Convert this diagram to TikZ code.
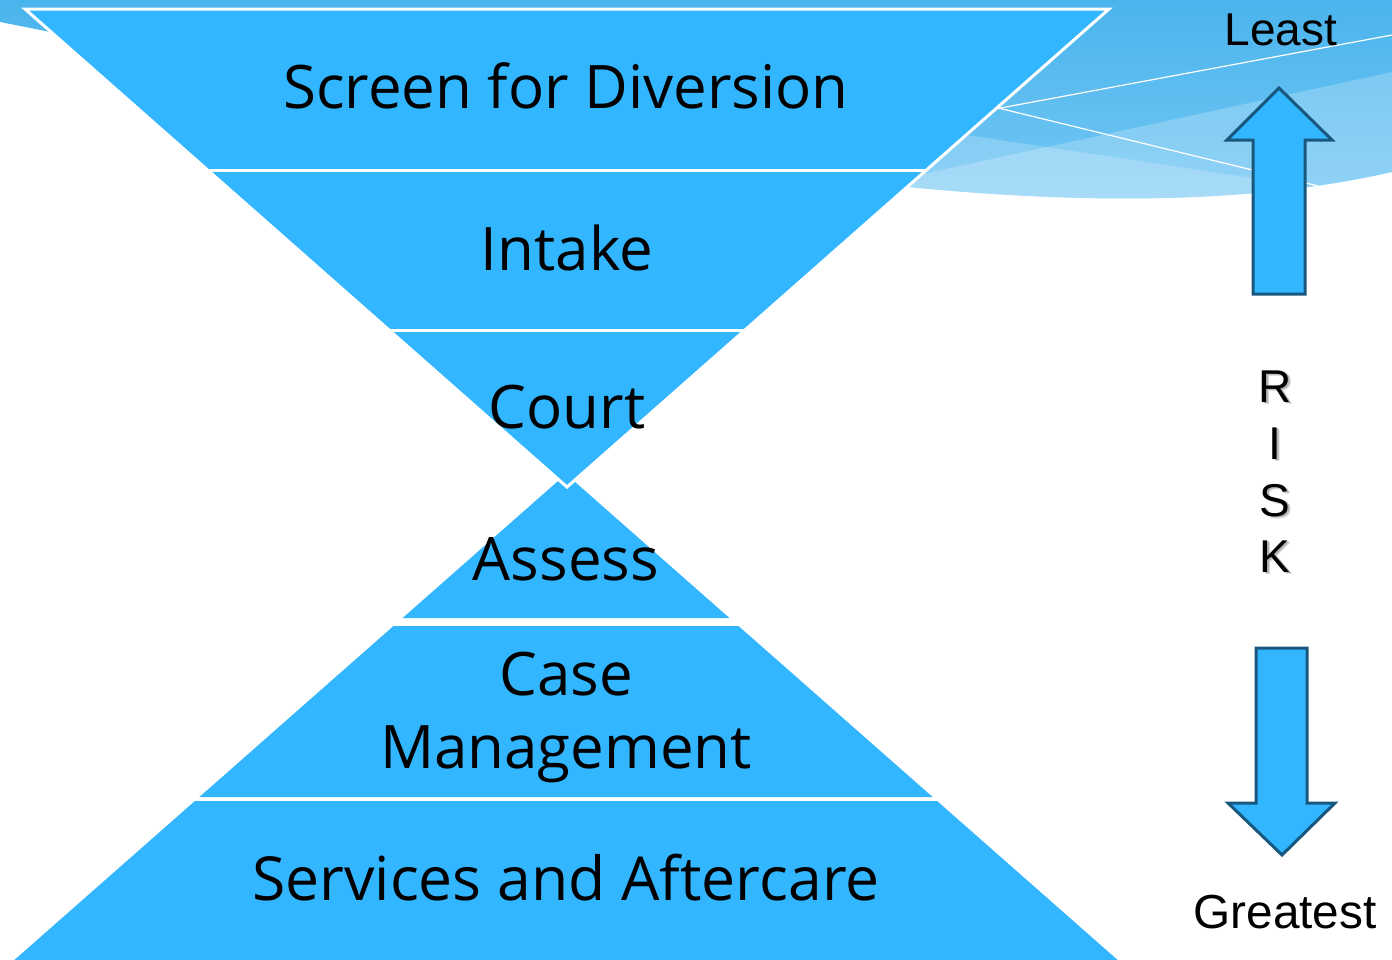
\documentclass[tikz,border=0pt]{standalone}
\usepackage{fontspec}
\setmainfont{Open Sans}
\newfontfamily\arialfont{Liberation Sans}
\definecolor{funnel}{RGB}{50,182,255}
\definecolor{arrowedge}{RGB}{25,88,126}
\definecolor{swtop}{RGB}{74,180,236}
\definecolor{swbot}{RGB}{118,200,245}
\newcommand{\shtext}[1]{\makebox[0pt][l]{\raisebox{-2.2pt}{\hspace{2.2pt}\textcolor{black!15}{#1}}}\makebox[0pt][l]{\raisebox{-1.3pt}{\hspace{1.3pt}\textcolor{black!30}{#1}}}#1}
\tikzset{
  band/.style={fill=funnel},
  sep/.style={draw=white, line width=2.25pt},
  stagetext/.style={inner sep=0pt, anchor=base, font=\fontsize{45}{54}\selectfont},
  risktext/.style={inner sep=0pt, anchor=base, font=\arialfont\fontsize{34.5}{40}\selectfont},
  riskarrow/.style={fill=funnel, draw=arrowedge, line width=2.25pt, line join=miter},
  wline/.style={draw=white, line width=0.9pt}
}
\begin{document}
\begin{tikzpicture}[x=0.75pt,y=-0.75pt]
\useasboundingbox (0,0) rectangle (1392,960);
% background swoosh
\begin{scope}
  \clip (0,0) -- (0,22) .. controls (400,100) and (1000,262) .. (1392,172) -- (1392,0) -- cycle;
  \shade[top color=swtop, bottom color=swbot] (0,0) rectangle (1392,210);
  \fill[white, opacity=0.22] (900,179) -- (1392,72) -- (1392,260) -- (900,260) -- cycle;
  \fill[white, opacity=0.2] (900,125) -- (1392,199) -- (1392,260) -- (900,260) -- cycle;
  \draw[wline] (990,110) -- (1392,35);
  \draw[wline] (990,106) -- (1400,206);
\end{scope}
% lower (upright) funnel
\fill[band] (566,474) -- (729.4,618) -- (402.6,618) -- cycle;
\fill[band] (393.5,626) -- (738.5,626) -- (932.6,797) -- (199.4,797) -- cycle;
\fill[band] (194.9,801) -- (937.1,801) -- (1129,970) -- (3,970) -- cycle;
% upper (inverted) funnel
\fill[band, draw=white, line width=2.25pt, line join=miter] (25,9) -- (1109,9) -- (567,487) -- cycle;
\draw[sep] (207.5,170) -- (926.5,170);
\draw[sep] (389,330) -- (745,330);
% stage labels
\node[stagetext] (screen) at (566,108) {Screen for Diversion};
\node[stagetext] (intake) at (567,270) {Intake};
\node[stagetext] (court) at (567,428) {Court};
\node[stagetext] (assess) at (566,580) {Assess};
\node[stagetext] (case) at (566,695) {Case};
\node[stagetext] (mgmt) at (566,768) {Management};
\node[stagetext, font=\fontsize{45.5}{54}\selectfont] (services) at (566,900) {Services and Aftercare};
% risk scale
\draw[riskarrow] (1279,88) -- (1332,140) -- (1305,140) -- (1305,294) -- (1253,294) -- (1253,140) -- (1227,140) -- cycle;
\draw[riskarrow] (1256,648) -- (1307,648) -- (1307,803) -- (1335,803) -- (1282,855) -- (1228,803) -- (1256,803) -- cycle;
\node[risktext] (least) at (1281,45) {Least};
\node[risktext, font=\arialfont\fontsize{35.8}{40}\selectfont] (greatest) at (1285,928) {Greatest};
\node[risktext] (r) at (1275,402) {\shtext{R}};
\node[risktext] (i) at (1275,459) {\shtext{I}};
\node[risktext] (s) at (1275,516) {\shtext{S}};
\node[risktext] (k) at (1275,572) {\shtext{K}};
\end{tikzpicture}
\end{document}
